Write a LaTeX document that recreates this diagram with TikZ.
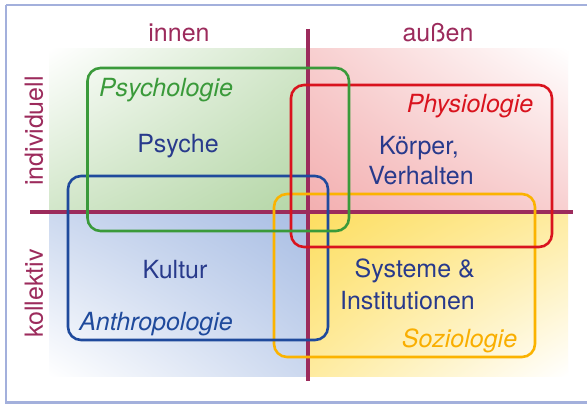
\documentclass[tikz,border=0pt]{standalone}
\usepackage{fontspec}
\usetikzlibrary{shadings}
\setmainfont{TeX Gyre Heros}
\definecolor{frame}{HTML}{A3B0DC}
\definecolor{axis}{HTML}{9C2B5C}
\definecolor{navy}{HTML}{283A8C}
\definecolor{gfill}{HTML}{B4D6A6}
\definecolor{rfill}{HTML}{F3AFB0}
\definecolor{bfill}{HTML}{A9BEE4}
\definecolor{yfill}{HTML}{FDDE60}
\definecolor{gline}{HTML}{3A9A3A}
\definecolor{rline}{HTML}{D9131E}
\definecolor{bline}{HTML}{1F4A9C}
\definecolor{yline}{HTML}{FBB300}
\definecolor{gtext}{HTML}{3A9A3A}
\definecolor{rtext}{HTML}{D9131E}
\definecolor{btext}{HTML}{1F4A9C}
\definecolor{ytext}{HTML}{F9AE00}
\begin{document}
\begin{tikzpicture}[x=1pt,y=-1pt,
  lbl/.style={inner sep=0pt,anchor=base,font=\fontsize{25}{30}\selectfont},
  axislbl/.style={lbl,text=axis},
  field/.style={lbl,text=navy},
  disc/.style={lbl,font=\fontsize{25}{30}\selectfont\itshape},
  area/.style={line width=2.6pt,rounded corners=13pt},
  axisline/.style={draw=axis,line width=4pt}]
\useasboundingbox (0,0) rectangle (587,404);
\clip (0,0) rectangle (587,404);
\fill[white] (0,0) rectangle (587,404);
% frame
\draw[frame,line width=2.2pt] (6,5) -- (600,5);
\draw[frame,line width=2.2pt] (6,5) -- (6,402.5) -- (600,402.5);
% shaded quadrants
\shade[upper left=white, upper right=gfill!60, lower left=gfill!60, lower right=gfill] (49,49) rectangle (308,212);
\shade[upper left=rfill!60, upper right=white, lower left=rfill, lower right=rfill!60] (308,49) rectangle (568,212);
\shade[upper left=bfill!60, upper right=bfill, lower left=white, lower right=bfill!60] (49,212) rectangle (308,376);
\shade[upper left=yfill, upper right=yfill!60, lower left=yfill!60, lower right=white] (308,212) rectangle (568,376);
% axes
\coordinate (vtop) at (308,29);
\coordinate (vbot) at (308,381);
\coordinate (hl) at (30,212);
\coordinate (hr) at (573,212);
\draw[axisline] (vtop) -- (vbot);
\draw[axisline] (hl) -- (hr);
% areas
\draw[area,yline] (274,194) rectangle (535,357);
\draw[area,bline] (68,176) rectangle (328,340);
\draw[area,rline] (291,85) rectangle (552,247);
\draw[area,gline] (87.5,68) rectangle (349,231);
% axis labels
\node[axislbl] (innen) at (179,42) {innen};
\node[axislbl] (aussen) at (438,42) {außen};
\node[axislbl,rotate=90,anchor=center] (indiv) at (34,131) {individuell};
\node[axislbl,rotate=90,anchor=center] (koll) at (34,293.5) {kollektiv};
% disciplines
\node[disc,text=gtext] (psychologie) at (166,97) {Psychologie};
\node[disc,text=rtext] (physiologie) at (470,113) {Physiologie};
\node[disc,text=btext] (anthro) at (156,330) {Anthropologie};
\node[disc,text=ytext] (sozio) at (459.5,347) {Soziologie};
% fields
\node[field] (psyche) at (178,153) {Psyche};
\node[field] (koerper) at (419,154) {Körper,};
\node[field] (verhalten) at (421,184) {Verhalten};
\node[field] (kultur) at (175,278) {Kultur};
\node[field,anchor=base east] (systeme) at (475,277) {Systeme \&};
\node[field,anchor=base east] (instit) at (475,309) {Institutionen};
\end{tikzpicture}
\end{document}
